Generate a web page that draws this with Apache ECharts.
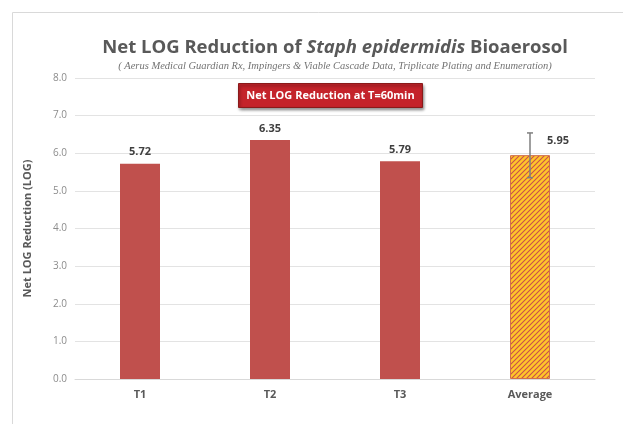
<!DOCTYPE html>
<html>
<head>
<meta charset="utf-8">
<script src="https://cdn.jsdelivr.net/npm/echarts@6/dist/echarts.min.js"></script>
<style>
  html, body { margin: 0; padding: 0; background: #fff; }
  #chart { width: 623px; height: 424px; }
</style>
</head>
<body>
<div id="chart"></div>
<script>
const categories = ["T1", "T2", "T3", "Average"];
const reductions = [5.72, 6.35, 5.79, 5.95];
const errorLow = [null, null, null, 5.35];
const errorHigh = [null, null, null, 6.54];
const yTicks = [0, 1, 2, 3, 4, 5, 6, 7, 8];

// hatched fill for the average bar
function hatch() {
  const c = document.createElement("canvas");
  c.width = 5;
  c.height = 5;
  const ctx = c.getContext("2d");
  ctx.fillStyle = "#ffc62a";
  ctx.fillRect(0, 0, 5, 5);
  ctx.strokeStyle = "#c8504a";
  ctx.lineWidth = 1.1;
  ctx.beginPath();
  ctx.moveTo(0, 5); ctx.lineTo(5, 0);
  ctx.moveTo(-2.5, 2.5); ctx.lineTo(2.5, -2.5);
  ctx.moveTo(2.5, 7.5); ctx.lineTo(7.5, 2.5);
  ctx.stroke();
  return c;
}

const chart = echarts.init(document.getElementById("chart"));
chart.setOption({
  animation: false,
  title: {
    text: "{b|Net LOG Reduction of }{i|Staph epidermidis}{b| Bioaerosol}",
    subtext: "( Aerus Medical Guardian Rx, Impingers & Viable Cascade Data, Triplicate Plating and Enumeration)",
    left: 330,
    textAlign: "center",
    top: 33,
    itemGap: 4,
    textStyle: {
      rich: {
        b: { fontFamily: "Open Sans", fontWeight: "bold", fontSize: 18.5, color: "#595959" },
        i: { fontFamily: "Open Sans", fontWeight: "bold", fontStyle: "italic", fontSize: 18.5, color: "#595959" }
      }
    },
    subtextStyle: {
      fontFamily: "Liberation Serif",
      fontStyle: "italic",
      fontSize: 10.5,
      color: "#737373"
    }
  },
  graphic: [
    {
      type: "rect",
      shape: { x: 12.5, y: 12.5, width: 640, height: 440 },
      style: { fill: "none", stroke: "#d9d9d9", lineWidth: 1 },
      silent: true
    },
    {
      type: "group",
      left: 238,
      top: 83,
      children: [
        {
          type: "rect",
          shape: { x: 0, y: 0, width: 184, height: 24 },
          style: {
            fill: "#c4232a",
            stroke: "#8a1a1a",
            lineWidth: 1,
            shadowBlur: 3,
            shadowOffsetX: 1,
            shadowOffsetY: 2,
            shadowColor: "rgba(0,0,0,0.45)"
          }
        },
        {
          type: "text",
          x: 92,
          y: 12,
          style: {
            text: "Net LOG Reduction at T=60min",
            fill: "#ffffff",
            font: "bold 11px 'Open Sans'",
            align: "center",
            verticalAlign: "middle"
          }
        }
      ]
    }
  ],
  grid: { left: 75, right: 28, top: 78, bottom: 45 },
  xAxis: {
    type: "category",
    data: categories,
    axisLine: { lineStyle: { color: "#d9d9d9" } },
    axisTick: { show: false },
    axisLabel: {
      color: "#595959",
      fontFamily: "Open Sans",
      fontWeight: "bold",
      fontSize: 11,
      margin: 10
    }
  },
  yAxis: {
    type: "value",
    min: yTicks[0],
    max: yTicks[yTicks.length - 1],
    interval: 1,
    name: "Net LOG Reduction (LOG)",
    nameLocation: "middle",
    nameGap: 42,
    nameTextStyle: {
      color: "#595959",
      fontFamily: "Open Sans",
      fontWeight: "bold",
      fontSize: 11
    },
    axisLine: { show: false },
    axisTick: { show: false },
    splitLine: { lineStyle: { color: "#e3e3e3" } },
    axisLabel: {
      color: "#8c8c8c",
      fontFamily: "Open Sans",
      fontSize: 10,
      margin: 8,
      formatter: v => v.toFixed(1)
    }
  },
  series: [
    {
      type: "bar",
      barWidth: 40,
      data: reductions.map((v, i) => {
        if (i === 3) {
          return {
            value: v,
            itemStyle: {
              color: { image: hatch(), repeat: "repeat" },
              borderColor: "#d0704a",
              borderWidth: 1
            },
            label: { offset: [28, -3] }
          };
        }
        return { value: v, itemStyle: { color: "#c0504d" } };
      }),
      label: {
        show: true,
        position: "top",
        distance: 6,
        color: "#404040",
        fontFamily: "Open Sans",
        fontWeight: "bold",
        fontSize: 11,
        formatter: p => p.value.toFixed(2)
      }
    },
    {
      type: "custom",
      data: categories.map((c, i) => [i, errorLow[i], errorHigh[i]]).filter(d => d[1] !== null),
      renderItem: (params, api) => {
        const lo = api.coord([api.value(0), api.value(1)]);
        const hi = api.coord([api.value(0), api.value(2)]);
        const style = { stroke: "#7f7f7f", lineWidth: 1.5 };
        return {
          type: "group",
          children: [
            { type: "line", shape: { x1: hi[0], y1: hi[1], x2: lo[0], y2: lo[1] }, style },
            { type: "line", shape: { x1: hi[0] - 3, y1: hi[1], x2: hi[0] + 3, y2: hi[1] }, style },
            { type: "line", shape: { x1: lo[0] - 3, y1: lo[1], x2: lo[0] + 3, y2: lo[1] }, style }
          ]
        };
      },
      z: 5
    }
  ]
});
</script>
</body>
</html>
